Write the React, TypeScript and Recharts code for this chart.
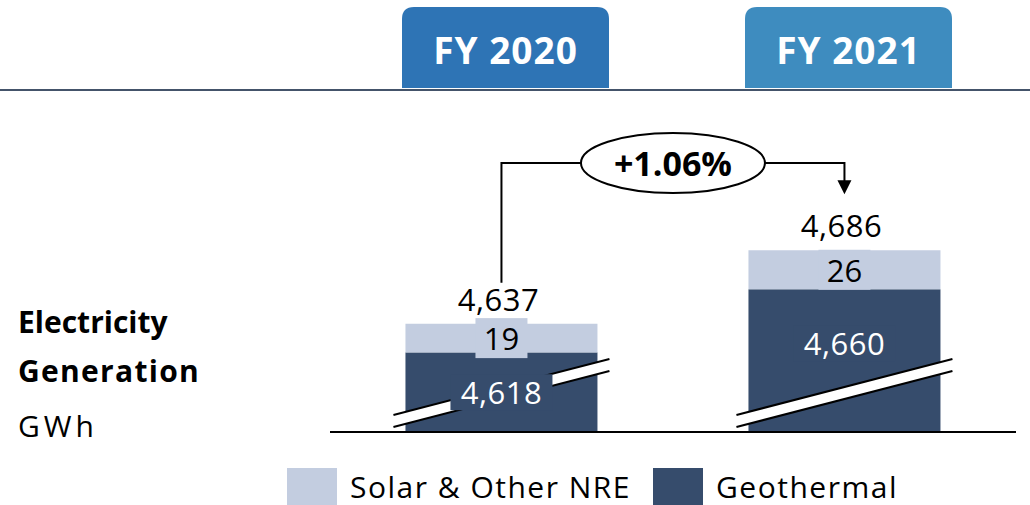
import React from "react";
import {
  BarChart,
  Bar,
  XAxis,
  YAxis,
  LabelList,
  Legend,
  ReferenceLine,
} from "recharts";

// values (GWh)
const years = ["FY 2020", "FY 2021"];
const geothermal = [4618, 4660];
const solar = [19, 26];
const totals = [4637, 4686];
const seriesNames = ["Geothermal", "Solar & Other NRE"];
const tabColors = ["#2E74B5", "#3E8CBF"];

const DARK = "#364C6C";
const LIGHT = "#C3CDE0";
const FONT = "'Open Sans', 'Noto Sans', sans-serif";

const CHART_W = 1030;
const CHART_H = 505;
const TOP_AXIS_H = 100;
const Y_AXIS_W = 330;
const RIGHT = 14;
const LEGEND_H = 73;
const PLOT_BOTTOM = CHART_H - LEGEND_H;
const PLOT_W = CHART_W - Y_AXIS_W - RIGHT;
const STEP = PLOT_W / years.length;
const Y_DOMAIN: [number, number] = [4565, 4786]; // broken axis

const data = years.map((year, i) => ({
  year,
  geothermal: geothermal[i],
  solar: solar[i],
  total: totals[i],
}));

const growth = `+${((totals[1] / totals[0] - 1) * 100).toFixed(2)}%`;
const fmt = (v: number) => v.toLocaleString("en-US");

function box(props: any) {
  return props.viewBox ?? props;
}

// geothermal bar, cut at the plot bottom, with the axis-break mark
function GeoShape(props: any) {
  const { x, y, width, height, fill } = props;
  const b = Math.min(y + height, PLOT_BOTTOM);
  const x0 = x - 12;
  const x1 = x + width + 12;
  return (
    <g>
      <rect x={x} y={y} width={width} height={b - y} fill={fill} />
      <polygon
        points={`${x0},${b - 17} ${x1},${b - 73} ${x1},${b - 61} ${x0},${b - 5}`}
        fill="#fff"
      />
      <line x1={x0} y1={b - 17} x2={x1} y2={b - 73} stroke="#000" strokeWidth={2} />
      <line x1={x0} y1={b - 5} x2={x1} y2={b - 61} stroke="#000" strokeWidth={2} />
    </g>
  );
}

function GeoLabel(props: any) {
  const { x, y, width } = box(props);
  const text = fmt(Number(props.value));
  const cx = x + width / 2;
  const h = PLOT_BOTTOM - y;
  const cy = y + Math.min(h / 2, 54);
  const w = text.length * 17 + 17;
  return (
    <g>
      <rect x={cx - w / 2} y={cy - 18} width={w} height={36} fill={DARK} />
      <text x={cx} y={cy} textAnchor="middle" dominantBaseline="central" fill="#fff" fontSize={31} letterSpacing={0.5} fontFamily={FONT}>
        {text}
      </text>
    </g>
  );
}

function SolarLabel(props: any) {
  const { x, y, width, height } = box(props);
  const text = String(props.value);
  const cx = x + width / 2;
  const cy = y + height / 2;
  const w = text.length * 17 + 18;
  return (
    <g>
      <rect x={cx - w / 2} y={cy - 20} width={w} height={40} fill={LIGHT} />
      <text x={cx} y={cy} textAnchor="middle" dominantBaseline="central" fill="#000" fontSize={31} fontFamily={FONT}>
        {text}
      </text>
    </g>
  );
}

function TotalLabel(props: any) {
  const { x, y, width } = box(props);
  const cx = x + width / 2;
  const lineY = 163;
  const half = STEP / 2;
  const rx = 92;
  return (
    <g>
      <text x={cx - 3} y={y - 25} textAnchor="middle" dominantBaseline="central" fill="#000" fontSize={31} letterSpacing={0.5} fontFamily={FONT}>
        {fmt(Number(props.value))}
      </text>
      {props.index === 0 && (
        <g>
          <path d={`M${cx},${y - 41} V${lineY} H${cx + half - rx}`} fill="none" stroke="#000" strokeWidth={2} />
          <ellipse cx={cx + half} cy={lineY} rx={rx} ry={30} fill="#fff" stroke="#000" strokeWidth={2} />
          <text x={cx + half} y={lineY} textAnchor="middle" dominantBaseline="central" fontSize={34} fontWeight={700} fontFamily={FONT}>
            {growth}
          </text>
        </g>
      )}
      {props.index === 1 && (
        <g>
          <path d={`M${cx - half + rx},${lineY} H${cx} V${y - 68}`} fill="none" stroke="#000" strokeWidth={2} />
          <polygon points={`${cx - 7},${y - 70} ${cx + 7},${y - 70} ${cx},${y - 56}`} fill="#000" />
        </g>
      )}
    </g>
  );
}

function TabTick(props: any) {
  const { x, y, payload, index } = props;
  const cx = x + 4;
  const w = 207;
  const top = y - 85;
  const bottom = y - 4;
  const r = 12;
  const l = cx - w / 2;
  const rr = cx + w / 2;
  return (
    <g>
      <path
        d={`M${l},${bottom} V${top + r} Q${l},${top} ${l + r},${top} H${rr - r} Q${rr},${top} ${rr},${top + r} V${bottom} Z`}
        fill={tabColors[index % tabColors.length]}
      />
      <text x={cx} y={(top + bottom) / 2 + 2} textAnchor="middle" dominantBaseline="central" fill="#fff" fontSize={37} fontWeight={700} letterSpacing={1} fontFamily={FONT}>
        {payload.value}
      </text>
    </g>
  );
}

function AxisTitle(props: any) {
  const vb = props.viewBox ?? { x: 0, y: TOP_AXIS_H };
  const x = vb.x + 18;
  return (
    <g fontFamily={FONT} fontSize={30} fill="#000">
      <text x={x} y={vb.y + 233} fontWeight={700}>Electricity</text>
      <text x={x} y={vb.y + 282} fontWeight={700} letterSpacing={1.3}>Generation</text>
      <text x={x} y={vb.y + 337} letterSpacing={4}>GWh</text>
    </g>
  );
}

function LegendContent(props: any) {
  const items = [...(props.payload ?? [])].reverse();
  return (
    <div
      style={{
        height: LEGEND_H,
        display: "flex",
        alignItems: "flex-end",
        paddingLeft: 287,
        boxSizing: "border-box",
        fontFamily: FONT,
        fontSize: 30,
        letterSpacing: 1.5,
      }}
    >
      {items.map((item: any, i: number) => (
        <div key={item.value} style={{ display: "flex", alignItems: "center", marginRight: i === 0 ? 22 : 0, height: 37 }}>
          <span style={{ width: 50, height: 37, background: item.color, marginRight: 13 }} />
          <span style={{ color: "#000", lineHeight: "37px", whiteSpace: "nowrap" }}>{item.value}</span>
        </div>
      ))}
    </div>
  );
}

export default function App() {
  return (
    <div style={{ position: "absolute", left: 0, top: 0, width: CHART_W, height: CHART_H, background: "#fff" }}>
      <div style={{ position: "absolute", left: 0, top: 89, width: CHART_W, height: 2, background: "#44546A" }} />
      <BarChart
        width={CHART_W}
        height={CHART_H}
        data={data}
        margin={{ top: 0, right: RIGHT, bottom: 0, left: 0 }}
        barCategoryGap="22%"
      >
        <XAxis
          dataKey="year"
          orientation="top"
          height={TOP_AXIS_H}
          axisLine={false}
          tickLine={false}
          interval={0}
          tick={<TabTick />}
        />
        <YAxis
          width={Y_AXIS_W}
          domain={Y_DOMAIN}
          allowDataOverflow
          tick={false}
          axisLine={false}
          tickLine={false}
          label={<AxisTitle />}
        />
        <Legend verticalAlign="bottom" content={<LegendContent />} />
        <Bar
          dataKey="geothermal"
          name={seriesNames[0]}
          stackId="gen"
          fill={DARK}
          shape={<GeoShape />}
          isAnimationActive={false}
        >
          <LabelList dataKey="geothermal" content={<GeoLabel />} />
        </Bar>
        <Bar
          dataKey="solar"
          name={seriesNames[1]}
          stackId="gen"
          fill={LIGHT}
          isAnimationActive={false}
        >
          <LabelList dataKey="solar" content={<SolarLabel />} />
          <LabelList dataKey="total" content={<TotalLabel />} />
        </Bar>
        <ReferenceLine y={Y_DOMAIN[0]} stroke="#000" strokeWidth={2} />
      </BarChart>
    </div>
  );
}
